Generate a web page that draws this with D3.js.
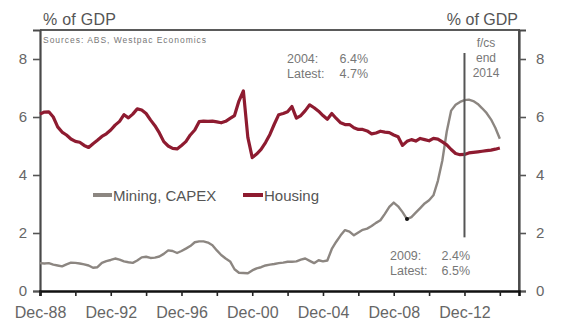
<!DOCTYPE html>
<html>
<head>
<meta charset="utf-8">
<script src="https://cdn.jsdelivr.net/npm/d3@7/dist/d3.min.js"></script>
<style>
  html, body { margin: 0; padding: 0; background: #fff; }
  svg { display: block; font-family: "Liberation Sans", Arial, sans-serif; }
</style>
</head>
<body>
<svg id="chart" width="561" height="327"></svg>
<script>
// Quarterly series, starting Dec-1988 (% of GDP)
const startQuarter = new Date(1988, 11, 1);
const housing = [
  6.10, 6.17, 6.18, 6.00, 5.66, 5.48, 5.38, 5.24, 5.16, 5.13,
  5.02, 4.95, 5.08, 5.20, 5.33, 5.42, 5.55, 5.72, 5.85, 6.08,
  5.97, 6.10, 6.28, 6.24, 6.12, 5.90, 5.70, 5.45, 5.15, 5.00,
  4.92, 4.90, 5.02, 5.15, 5.38, 5.55, 5.84, 5.86, 5.85, 5.86,
  5.83, 5.80, 5.85, 5.95, 6.05, 6.55, 6.90, 5.30, 4.60, 4.72,
  4.88, 5.12, 5.40, 5.75, 6.08, 6.12, 6.18, 6.36, 5.96, 6.05,
  6.22, 6.42, 6.32, 6.20, 6.05, 5.92, 6.12, 5.95, 5.80, 5.74,
  5.74, 5.63, 5.57, 5.57, 5.52, 5.42, 5.45, 5.51, 5.48, 5.46,
  5.38, 5.32, 5.02, 5.16, 5.22, 5.17, 5.26, 5.22, 5.18, 5.26,
  5.24, 5.14, 5.04, 4.88, 4.74, 4.70, 4.71, 4.76, 4.78, 4.80,
  4.82, 4.84, 4.86, 4.89, 4.93
];
const mining = [
  0.96, 0.95, 0.96, 0.91, 0.88, 0.85, 0.92, 0.98, 0.97, 0.95,
  0.92, 0.88, 0.80, 0.82, 0.97, 1.03, 1.07, 1.12, 1.08, 1.02,
  0.99, 0.97, 1.05, 1.16, 1.18, 1.14, 1.15, 1.19, 1.28, 1.40,
  1.38, 1.31, 1.38, 1.46, 1.55, 1.68, 1.71, 1.71, 1.67, 1.58,
  1.40, 1.24, 1.12, 1.02, 0.75, 0.63, 0.62, 0.61, 0.71, 0.78,
  0.82, 0.88, 0.91, 0.93, 0.96, 0.98, 1.01, 1.01, 1.02, 1.08,
  1.12, 1.04, 0.96, 1.06, 1.02, 1.05, 1.45, 1.70, 1.92, 2.10,
  2.05, 1.92, 2.02, 2.11, 2.15, 2.24, 2.35, 2.44, 2.66, 2.90,
  3.05, 2.92, 2.72, 2.48, 2.55, 2.70, 2.86, 3.02, 3.13, 3.30,
  3.80, 4.50, 5.50, 6.22, 6.42, 6.52, 6.58, 6.60, 6.55, 6.45,
  6.30, 6.14, 5.92, 5.62, 5.25
];
const yTicks = [0, 2, 4, 6, 8];
const xTickYears = [1988, 1990, 1992, 1994, 1996, 1998, 2000, 2002, 2004, 2006, 2008, 2010, 2012, 2014];
const xLabelYears = [1988, 1992, 1996, 2000, 2004, 2008, 2012];
const seriesNames = ["Mining, CAPEX", "Housing"];
const seriesColors = ["#8c8681", "#8e1b30"];
const forecastStart = new Date(2012, 11, 1);
const miningLowIndex = 83; // 2009 trough in mining capex
const notesHousing = [["2004:", "6.4%"], ["Latest:", "4.7%"]];
const notesMining = [["2009:", "2.4%"], ["Latest:", "6.5%"]];
const forecastNote = ["f/cs", "end", "2014"];

const quarterDate = i => d3.timeMonth.offset(startQuarter, 3 * i);

const svg = d3.select("#chart");
const plotL = 40, plotR = 519, plotT = 30, plotB = 291;

const x = d3.scaleTime()
  .domain([new Date(1988, 11, 1), new Date(2016, 0, 1)])
  .range([plotL, plotR]);
const y = d3.scaleLinear().domain([0, 9]).range([plotB, plotT]);

const grey = "#666";

// frame: top and right borders
svg.append("path")
  .attr("d", `M${plotL},${plotT}H${plotR}V${plotB}`)
  .attr("fill", "none").attr("stroke", "#5a5a5a").attr("stroke-width", 2);

// left axis
const yAxisL = svg.append("g").attr("transform", `translate(${plotL},0)`)
  .call(d3.axisLeft(y).tickValues(yTicks).tickSize(7).tickPadding(6).tickFormat(d3.format("d")));
// right axis
const yAxisR = svg.append("g").attr("transform", `translate(${plotR},0)`)
  .call(d3.axisRight(y).tickValues(yTicks).tickSize(7).tickPadding(10).tickFormat(d3.format("d")));
[yAxisL, yAxisR].forEach(g => {
  g.select(".domain").attr("stroke", "#4a4a4a").attr("stroke-width", 2.2);
  g.selectAll(".tick line").attr("stroke", "#555").attr("stroke-width", 1.6);
  g.selectAll(".tick text").attr("fill", grey).attr("font-size", 15)
    .attr("font-family", "Liberation Sans, Arial, sans-serif");
});

// bottom axis
const xAxis = svg.append("g").attr("transform", `translate(0,${plotB})`)
  .call(d3.axisBottom(x)
    .tickValues(xTickYears.map(yr => new Date(yr, 11, 1)))
    .tickSize(5).tickPadding(11)
    .tickFormat(d => xLabelYears.includes(d.getFullYear()) ? d3.timeFormat("Dec-%y")(d) : ""));
xAxis.select(".domain").attr("stroke", "#111").attr("stroke-width", 2.6);
xAxis.selectAll(".tick line").attr("stroke", "#222").attr("stroke-width", 1.6);
xAxis.selectAll(".tick text").attr("fill", grey).attr("font-size", 16)
  .attr("font-family", "Liberation Sans, Arial, sans-serif");

// axis titles
svg.append("text").attr("x", 43).attr("y", 25).attr("fill", "#555")
  .attr("font-size", 16).attr("textLength", 73).text("% of GDP");
svg.append("text").attr("x", 518).attr("y", 25).attr("fill", "#555")
  .attr("text-anchor", "end").attr("font-size", 16).text("% of GDP");

// source note
svg.append("text").attr("x", 43).attr("y", 43).attr("fill", "#777")
  .attr("font-size", 8.5).attr("textLength", 163).text("Sources: ABS, Westpac Economics");

// series lines
const line = d3.line().x((d, i) => x(quarterDate(i))).y(d => y(d)).curve(d3.curveLinear);
svg.append("path").datum(mining).attr("d", line)
  .attr("fill", "none").attr("stroke", seriesColors[0]).attr("stroke-width", 2.4)
  .attr("stroke-linejoin", "round");
svg.append("path").datum(housing).attr("d", line)
  .attr("fill", "none").attr("stroke", seriesColors[1]).attr("stroke-width", 3.2)
  .attr("stroke-linejoin", "round");

// forecast divider
svg.append("line")
  .attr("x1", x(forecastStart)).attr("x2", x(forecastStart))
  .attr("y1", 53).attr("y2", y(1.85))
  .attr("stroke", "#555").attr("stroke-width", 2);
const fc = svg.append("text").attr("fill", "#777").attr("font-size", 12).attr("text-anchor", "middle");
forecastNote.forEach((t, i) => fc.append("tspan").attr("x", 486).attr("y", 47 + i * 15).text(t));

// trough marker on the mining line
svg.append("circle")
  .attr("cx", x(quarterDate(miningLowIndex))).attr("cy", y(mining[miningLowIndex]))
  .attr("r", 2).attr("fill", "#111");

// notes
function note(rows, x0, x1, y0) {
  rows.forEach((r, i) => {
    svg.append("text").attr("x", x0).attr("y", y0 + i * 15).attr("fill", "#777")
      .attr("font-size", 12.5).text(r[0]);
    svg.append("text").attr("x", x1).attr("y", y0 + i * 15).attr("fill", "#777")
      .attr("font-size", 12.5).attr("text-anchor", "end").text(r[1]);
  });
}
note(notesHousing, 287, 368, 63);
note(notesMining, 390, 470, 260);

// legend
const legend = svg.append("g");
[[93, 112], [243, 263]].forEach((pos, i) => {
  legend.append("line").attr("x1", pos[0]).attr("x2", pos[1]).attr("y1", 195).attr("y2", 195)
    .attr("stroke", seriesColors[i]).attr("stroke-width", 4);
  legend.append("text").attr("x", pos[1] + 1).attr("y", 201).attr("fill", "#555")
    .attr("font-size", 15).text(seriesNames[i]);
});
</script>
</body>
</html>
